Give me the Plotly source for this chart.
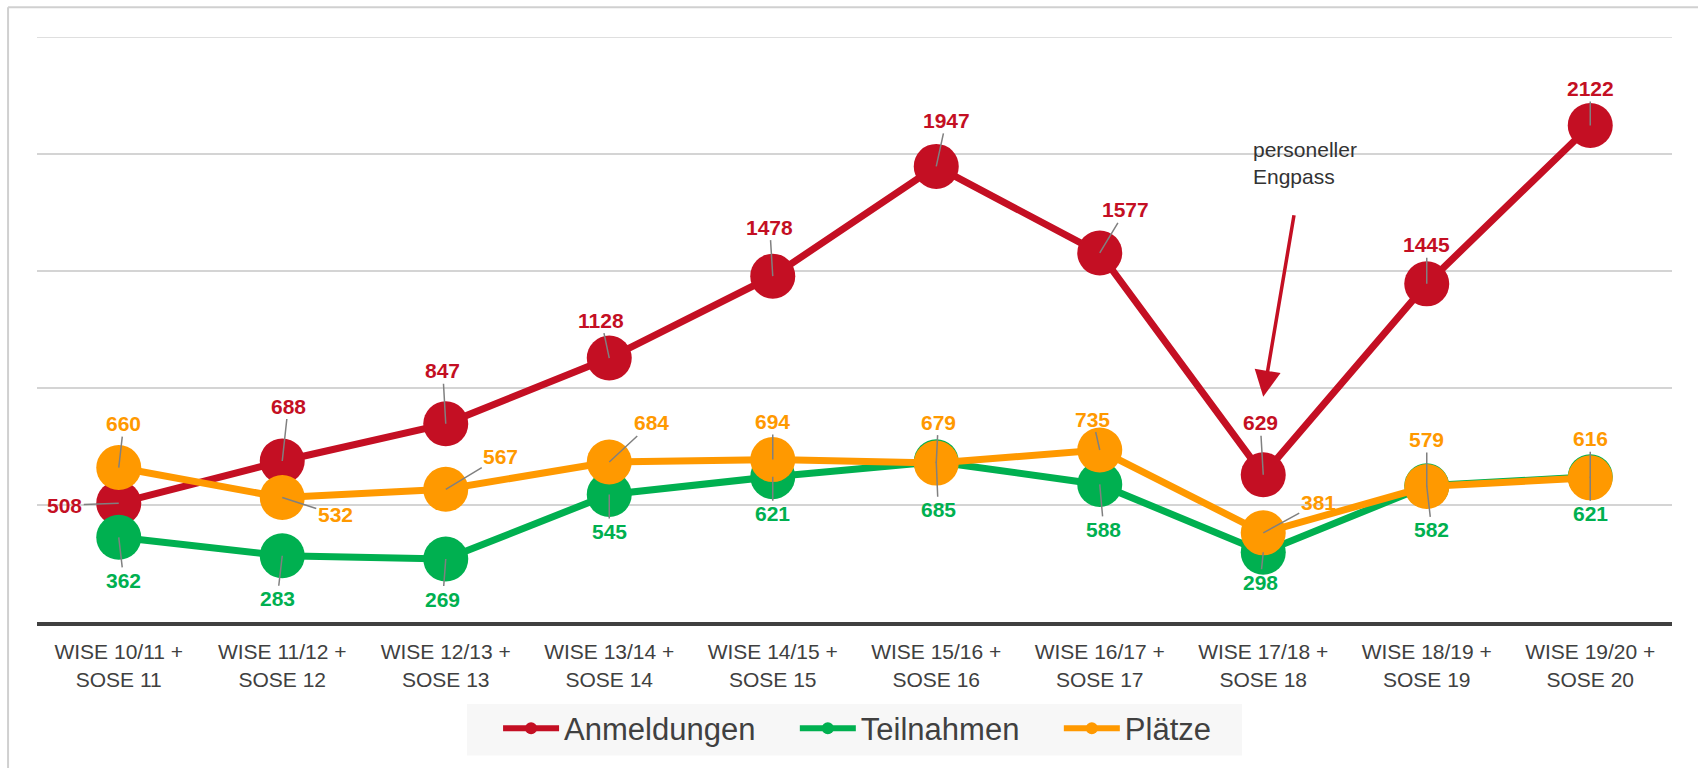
import plotly.graph_objects as go

categories = [
    "WISE 10/11 +<br>SOSE 11", "WISE 11/12 +<br>SOSE 12", "WISE 12/13 +<br>SOSE 13",
    "WISE 13/14 +<br>SOSE 14", "WISE 14/15 +<br>SOSE 15", "WISE 15/16 +<br>SOSE 16",
    "WISE 16/17 +<br>SOSE 17", "WISE 17/18 +<br>SOSE 18", "WISE 18/19 +<br>SOSE 19",
    "WISE 19/20 +<br>SOSE 20",
]
anmeldungen = [508, 688, 847, 1128, 1478, 1947, 1577, 629, 1445, 2122]
teilnahmen = [362, 283, 269, 545, 621, 685, 588, 298, 582, 621]
plaetze = [660, 532, 567, 684, 694, 679, 735, 381, 579, 616]
series_names = ["Anmeldungen", "Teilnahmen", "Plätze"]

note_text = "personeller<br>Engpass"
note_index = 7
y_max = 2500
y_step = 500

RED = "#C40F23"
GREEN = "#00B050"
ORANGE = "#FF9900"
TEXT = "#404040"
GRID = "#d4d4d4"
FONT = "Liberation Sans, Arial, sans-serif"
PAD = "\u00a0" * 4

# label offsets (pixels) relative to each marker
off_anm = [(-54, 2), (6, -55), (-3, -53), (-8, -38), (-3, -49), (10, -46), (26, -43), (-3, -52), (0, -39), (0, -37)]
off_tei = [(5, 43), (-5, 43), (-3, 40), (0, 37), (0, 37), (2, 48), (4, 45), (-3, 30), (5, 44), (0, 37)]
off_pla = [(5, -44), (53, 17), (55, -33), (42, -39), (0, -38), (2, -41), (-7, -31), (55, -30), (0, -47), (0, -39)]

fig = go.Figure()
series = [
    (series_names[0], anmeldungen, RED, off_anm, PAD),
    (series_names[1], teilnahmen, GREEN, off_tei, PAD),
    (series_names[2], plaetze, ORANGE, off_pla, ""),
]
for name, vals, col, _, _ in series:
    fig.add_trace(go.Scatter(
        x=categories, y=vals, mode="lines+markers", name=name, showlegend=False,
        line=dict(color=col, width=7), marker=dict(color=col, size=45),
        hoverinfo="skip",
    ))
for name, vals, col, _, pad in series:
    fig.add_trace(go.Scatter(
        x=[None], y=[None], mode="lines+markers", name=name + pad, showlegend=True,
        line=dict(color=col, width=6), marker=dict(color=col, size=12),
    ))

annotations = []
for name, vals, col, offs, _ in series:
    for c, v, (dx, dy) in zip(categories, vals, offs):
        annotations.append(dict(
            x=c, y=v, xref="x", yref="y", text=str(v), showarrow=True,
            ax=dx, ay=dy, arrowhead=0, arrowwidth=1.5, arrowcolor="#808080",
            standoff=0, font=dict(family=FONT, size=21, color=col, weight="bold"),
        ))

# arrow pointing down at the dip
annotations.append(dict(
    x=categories[note_index], y=anmeldungen[note_index], xref="x", yref="y", text="",
    showarrow=True, ax=31, ay=-183, yshift=78, standoff=0, arrowhead=2, arrowsize=1.5,
    arrowwidth=3.5, arrowcolor=RED,
))
annotations.append(dict(
    x=categories[note_index], y=anmeldungen[note_index], xref="x", yref="y",
    text=note_text, showarrow=False, xanchor="left", yanchor="top", align="left",
    xshift=-12, yshift=339, font=dict(family=FONT, size=21, color="#333333"),
))

shapes = [
    # top gridline
    dict(type="line", xref="paper", yref="y", x0=0, x1=1, y0=y_max, y1=y_max,
         line=dict(color=GRID, width=1.5), layer="below"),
    # outer frame (top and left edges)
    dict(type="line", xref="paper", yref="paper", x0=-0.0177, x1=1.1, y0=1.051, y1=1.051,
         line=dict(color="#d0d0d0", width=2)),
    dict(type="line", xref="paper", yref="paper", x0=-0.0177, x1=-0.0177, y0=1.051, y1=-0.4,
         line=dict(color="#d0d0d0", width=2)),
    # legend background
    dict(type="rect", xref="paper", yref="paper", x0=0.263, x1=0.737, y0=-0.2284, y1=-0.1401,
         line=dict(width=0), fillcolor="#f7f7f7", layer="below"),
]

fig.update_layout(
    width=1698, height=768,
    margin=dict(l=37, r=26, t=37, b=142),
    paper_bgcolor="white", plot_bgcolor="white",
    font=dict(family=FONT, color=TEXT),
    annotations=annotations, shapes=shapes,
    legend=dict(
        orientation="h", x=0.282, xanchor="left", y=-0.136, yanchor="top",
        bgcolor="rgba(0,0,0,0)", font=dict(size=31, color=TEXT, family=FONT),
        itemwidth=56,
    ),
    xaxis=dict(
        type="category", range=[-0.5, 9.5], showgrid=False, showline=True,
        linecolor=TEXT, linewidth=4, ticks="", ticklabelstandoff=8,
        tickfont=dict(size=21, color=TEXT, family=FONT), zeroline=False,
        fixedrange=True,
    ),
    yaxis=dict(
        range=[0, y_max], dtick=y_step, showgrid=True, gridcolor=GRID, gridwidth=1.5,
        showticklabels=False, zeroline=False, showline=False, fixedrange=True,
    ),
)

fig.write_html("out.html", config={"displayModeBar": False},
               post_script="document.body.style.margin='0';")
